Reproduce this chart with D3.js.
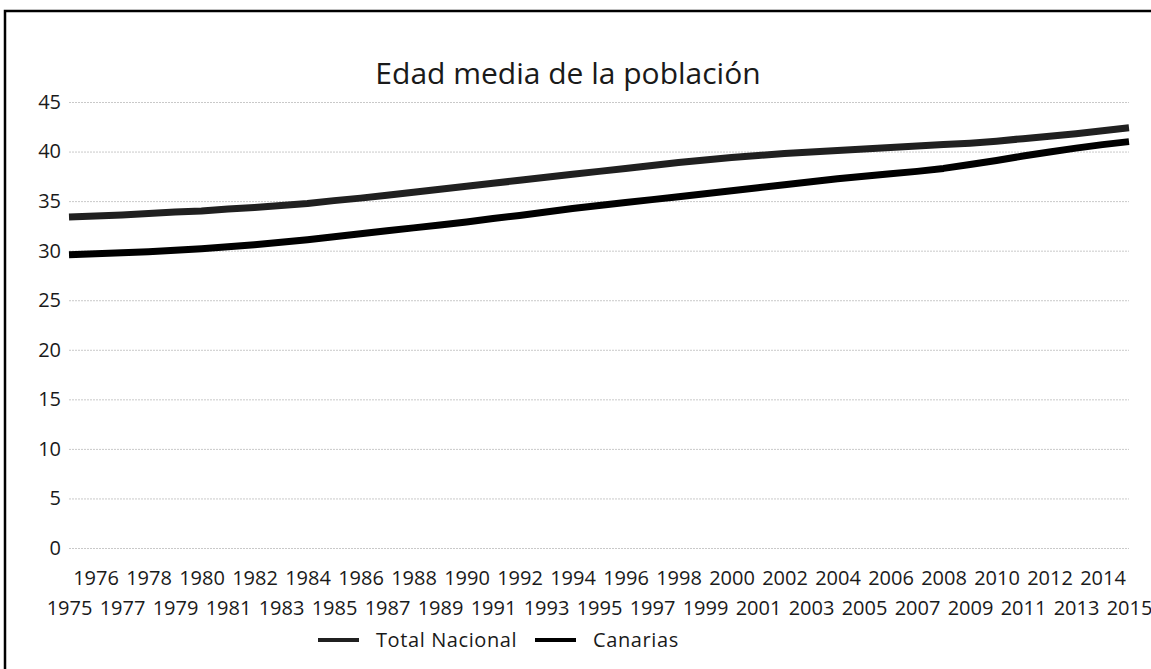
<!DOCTYPE html>
<html>
<head>
<meta charset="utf-8">
<script src="https://cdnjs.cloudflare.com/ajax/libs/d3/7.8.5/d3.min.js"></script>
<style>
  body { margin: 0; background: #fff; }
  text { font-family: "Open Sans", sans-serif; fill: #1a1a1a; }
</style>
</head>
<body>
<div id="chart"></div>
<script>
const globalWidth = 1151;
const globalHeight = 669;

// Data
const years = d3.range(1975, 2016);
const totalNacional = [33.4, 33.5, 33.6, 33.75, 33.9, 34.0, 34.2, 34.35, 34.55, 34.75,
  35.05, 35.3, 35.6, 35.9, 36.2, 36.5, 36.8, 37.1, 37.4, 37.7,
  38.0, 38.3, 38.6, 38.9, 39.15, 39.4, 39.6, 39.8, 39.95, 40.1,
  40.25, 40.4, 40.55, 40.7, 40.85, 41.05, 41.3, 41.55, 41.8, 42.1, 42.4];
const canarias = [29.6, 29.7, 29.8, 29.9, 30.05, 30.2, 30.4, 30.6, 30.85, 31.1,
  31.4, 31.7, 32.0, 32.3, 32.6, 32.9, 33.25, 33.55, 33.9, 34.25,
  34.55, 34.85, 35.15, 35.45, 35.75, 36.05, 36.35, 36.65, 36.95, 37.25,
  37.5, 37.75, 38.0, 38.3, 38.7, 39.1, 39.55, 39.95, 40.35, 40.7, 41.0];
const yTicks = [0, 5, 10, 15, 20, 25, 30, 35, 40, 45];
const seriesNames = ["Total Nacional", "Canarias"];
const seriesColors = ["#202020", "#000000"];

const titleText = "Edad media de la población";

var margin = {top: 102, right: 22, bottom: 121, left: 69};
var width = globalWidth - margin.left - margin.right;
var height = globalHeight - margin.top - margin.bottom;

const root = d3.select("#chart")
  .append("svg")
  .attr("width", globalWidth)
  .attr("height", globalHeight);

// outer frame of the chart object
root.append("rect")
  .attr("x", 5)
  .attr("y", 11)
  .attr("width", globalWidth + 10)
  .attr("height", globalHeight + 10)
  .attr("fill", "none")
  .attr("stroke", "#000")
  .attr("stroke-width", 2.5);

const svg = root.append("g")
  .attr("transform", "translate(" + margin.left + "," + margin.top + ")");

// X: category axis, points sit on the tick marks
var x = d3.scalePoint()
  .domain(years)
  .range([0, width]);

var y = d3.scaleLinear()
  .domain([0, 45])
  .range([height, 0]);

// gridlines
svg.append("g")
  .call(d3.axisLeft(y).tickValues(yTicks).tickSize(-width).tickFormat(""))
  .call(g => g.select(".domain").remove())
  .call(g => g.selectAll("line")
    .attr("stroke", "#c9c9c9")
    .attr("stroke-width", 1)
    .attr("stroke-dasharray", "2,1"));

// Y axis labels
svg.append("g")
  .call(d3.axisLeft(y).tickValues(yTicks).tickSize(0).tickPadding(8))
  .call(g => g.select(".domain").remove())
  .call(g => g.selectAll("text")
    .attr("font-size", "20px")
    .style("font-family", "'Open Sans', sans-serif")
    .attr("fill", "#1a1a1a"));

// X axis labels, staggered in two rows like the original
var xAxis = svg.append("g")
  .attr("transform", "translate(0," + height + ")")
  .call(d3.axisBottom(x).tickSize(0).tickPadding(0))
  .call(g => g.select(".domain").remove());

xAxis.selectAll("text")
  .attr("font-size", "20px")
  .style("font-family", "'Open Sans', sans-serif")
  .attr("fill", "#1a1a1a")
  .attr("dy", null)
  .attr("y", function(d) { return (d - 1975) % 2 == 0 ? 67 : 37; });

// lines
var line = d3.line()
  .x(function(d, i) { return x(years[i]); })
  .y(function(d) { return y(d); });

[totalNacional, canarias].forEach(function(series, i) {
  svg.append("path")
    .datum(series)
    .attr("fill", "none")
    .attr("stroke", seriesColors[i])
    .attr("stroke-width", 7)
    .attr("stroke-linejoin", "round")
    .attr("d", line);
});

// title
root.append("text")
  .attr("x", 568)
  .attr("y", 84)
  .attr("text-anchor", "middle")
  .attr("font-size", "30px")
  .text(titleText);

// legend
var legendX = [318, 535];
var legend = root.append("g")
  .attr("transform", "translate(0,640)");

seriesNames.forEach(function(name, i) {
  legend.append("line")
    .attr("x1", legendX[i])
    .attr("x2", legendX[i] + 41)
    .attr("y1", 0)
    .attr("y2", 0)
    .attr("stroke", seriesColors[i])
    .attr("stroke-width", 4);
  legend.append("text")
    .attr("x", legendX[i] + 58)
    .attr("y", 7)
    .attr("font-size", "20px")
    .attr("letter-spacing", "0.6px")
    .text(name);
});
</script>
</body>
</html>
